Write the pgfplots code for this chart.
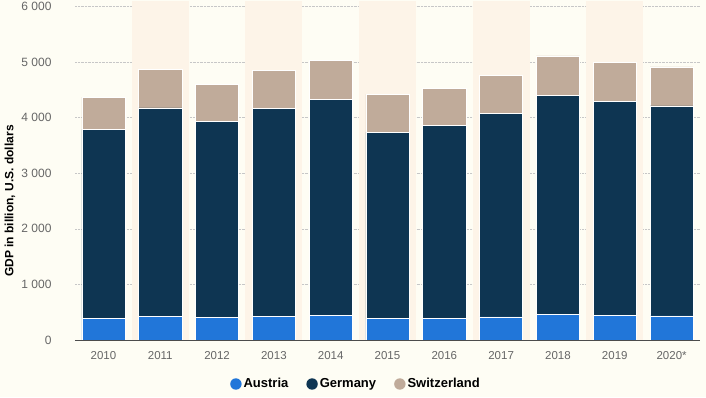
\documentclass[border=0pt]{standalone}
\usepackage{pgfplots}
\pgfplotsset{compat=1.18}
\usepackage{fontspec}
\setmainfont{Liberation Sans}
\definecolor{bgcol}{HTML}{FEFDF4}
\definecolor{bandcol}{HTML}{FDF4E8}
\definecolor{austria}{HTML}{2176D9}
\definecolor{germany}{HTML}{0E3552}
\definecolor{swiss}{HTML}{C0AB9A}
\definecolor{ticktext}{HTML}{666666}
\begin{document}
\begin{tikzpicture}
\fill[bgcol] (-75pt,-57pt) rectangle (631pt,340pt);
\begin{axis}[
  anchor=south west, at={(0pt,0pt)},
  scale only axis,
  width=625pt, height=339pt,
  xmin=-0.5, xmax=10.5,
  ymin=0, ymax=6100,
  xtick=\empty,
  ytick={1000,2000,3000,4000,5000,6000},
  yticklabels={},
  tick style={draw=none},
  axis line style={draw=none},
  ymajorgrids,
  grid style={densely dotted, color=black!22, line width=0.7pt},
]
\fill[bandcol] (axis cs:0.5,0) rectangle (axis cs:1.5,6100);
\fill[bandcol] (axis cs:2.5,0) rectangle (axis cs:3.5,6100);
\fill[bandcol] (axis cs:4.5,0) rectangle (axis cs:5.5,6100);
\fill[bandcol] (axis cs:6.5,0) rectangle (axis cs:7.5,6100);
\fill[bandcol] (axis cs:8.5,0) rectangle (axis cs:9.5,6100);
\end{axis}
\begin{axis}[
  anchor=south west, at={(0pt,0pt)},
  scale only axis,
  width=625pt, height=339pt,
  xmin=-0.5, xmax=10.5,
  ymin=0, ymax=6100,
  axis on top,
  ybar stacked,
  bar width=0.76,
  xtick={0,...,10},
  xticklabels={2010,2011,2012,2013,2014,2015,2016,2017,2018,2019,2020*},
  ytick={0,1000,2000,3000,4000,5000,6000},
  /pgf/number format/assume math mode=true,
  /pgf/number format/1000 sep={\ },
  tick style={draw=none},
  axis x line*=bottom,
  axis y line*=left,
  y axis line style={draw=none},
  x axis line style={draw=black!70, line width=0.9pt, -},
  xticklabel style={font=\fontsize{11.5}{12}\selectfont, text=ticktext, yshift=-8pt},
  yticklabel style={font=\fontsize{12}{12}\selectfont, text=ticktext, xshift=-20pt},
  ylabel={GDP in billion, U.S. dollars},
  ylabel style={at={(axis description cs:-0.104,0.41)}, anchor=center, font=\bfseries\fontsize{12}{12}\selectfont},
  legend columns=3,
  legend style={at={(axis description cs:0.4496,-0.1298)}, anchor=center, draw=none, fill=none,
    font=\bfseries\fontsize{13}{13}\selectfont, /tikz/every even column/.append style={column sep=16pt}},
  legend image code/.code={\fill[#1, draw=none] (0pt,0pt) circle (5.7pt);},
  every axis plot/.append style={draw=white, line width=0.6pt},
]
\addplot[fill=austria] coordinates {(0,392) (1,431) (2,409) (3,430) (4,442) (5,382) (6,395) (7,417) (8,455) (9,446) (10,433)};
\addplot[fill=germany] coordinates {(0,3396) (1,3744) (2,3527) (3,3733) (4,3884) (5,3357) (6,3467) (7,3665) (8,3951) (9,3846) (10,3780)};
\addplot[fill=swiss] coordinates {(0,581) (1,699) (2,668) (3,689) (4,709) (5,680) (6,669) (7,680) (8,705) (9,703) (10,700)};
\legend{Austria,Germany,Switzerland}
\end{axis}
\pgfresetboundingbox
\path[use as bounding box] (-75pt,-57pt) rectangle (631pt,340pt);
\end{tikzpicture}
\end{document}
